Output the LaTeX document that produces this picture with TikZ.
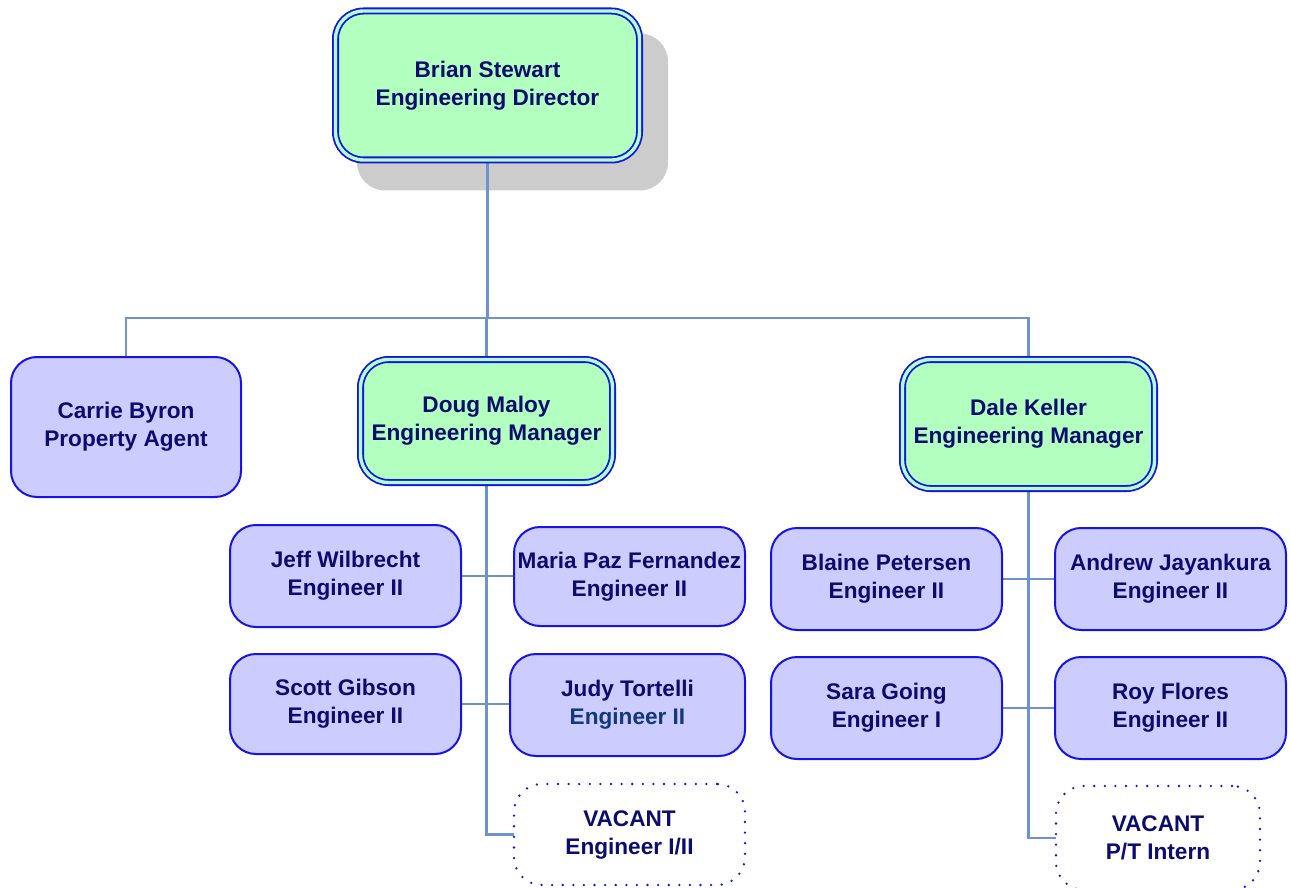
\documentclass[tikz,border=0pt]{standalone}
\usepackage{fontspec}
\setmainfont{Liberation Sans}
\usetikzlibrary{backgrounds}
\definecolor{bordc}{HTML}{1414E6}
\definecolor{greenc}{HTML}{B2FFC0}
\definecolor{lavc}{HTML}{CCCCFF}
\definecolor{linec}{HTML}{6E92CB}
\definecolor{txtc}{HTML}{0C0C6E}
\definecolor{judyc}{HTML}{14387A}
\definecolor{shadc}{HTML}{CCCCCC}
\begin{document}
\begin{tikzpicture}[x=1pt,y=-1pt,
 base/.style={rectangle, rounded corners=26pt, align=center, text=txtc,
   font=\fontsize{22.6}{28}\selectfont\bfseries, inner sep=0pt, outer sep=0pt},
 mgr/.style={base, draw=bordc, line width=1.8pt, double=greenc, double distance=3.4pt, fill=greenc, rounded corners=28pt},
 emp/.style={base, draw=bordc, line width=2pt, fill=lavc},
 vac/.style={base, draw=bordc, line width=2.6pt, dash pattern=on 0pt off 10.6pt, line cap=round, fill=white, rounded corners=28pt},
 conn/.style={draw=linec, line width=2.5pt}
]
\useasboundingbox (0,0) rectangle (1291,888);

\node[mgr, minimum width=304pt, minimum height=149pt] (brian) at (487.5,85.5) {Brian Stewart\\Engineering Director};
\node[emp, minimum width=230pt, minimum height=140pt] (carrie) at (126,427) {Carrie Byron\\Property Agent};
\node[mgr, minimum width=252pt, minimum height=123pt] (doug) at (486.5,421) {Doug Maloy\\Engineering Manager};
\node[mgr, minimum width=252pt, minimum height=129pt] (dale) at (1028.5,424) {Dale Keller\\Engineering Manager};

\node[emp, minimum width=231pt, minimum height=102pt] (jeff) at (345.5,576) {Jeff Wilbrecht\\Engineer II};
\node[emp, minimum width=231pt, minimum height=99pt] (maria) at (629.5,576.5) {Maria Paz Fernandez\\Engineer II};
\node[emp, minimum width=231pt, minimum height=100pt] (scott) at (345.5,704) {Scott Gibson\\Engineer II};
\node[emp, minimum width=235pt, minimum height=102pt] (judy) at (627.5,705) {Judy Tortelli\\{\color{judyc}Engineer II}};
\node[vac, minimum width=231pt, minimum height=101pt] (vac1) at (629.5,834.5) {VACANT\\Engineer I/II};

\node[emp, minimum width=231pt, minimum height=102pt] (blaine) at (886.5,579) {Blaine Petersen\\Engineer II};
\node[emp, minimum width=231pt, minimum height=102pt] (andrew) at (1170.5,579) {Andrew Jayankura\\Engineer II};
\node[emp, minimum width=231pt, minimum height=102pt] (sara) at (886.5,708) {Sara Going\\Engineer I};
\node[emp, minimum width=231pt, minimum height=102pt] (roy) at (1170.5,708) {Roy Flores\\Engineer II};
\node[vac, minimum width=204pt, minimum height=104pt] (vac2) at (1158,838) {VACANT\\P/T Intern};

\begin{scope}[on background layer]
  \fill[shadc, rounded corners=28pt] ([shift={(21.5,22.5)}]brian.north west) rectangle ([shift={(28.5,30.5)}]brian.south east);
  \coordinate (bus) at (0,318);
  \draw[conn] (brian.south) -- (brian.south |- bus);
  \draw[conn] (carrie.north) -- (carrie.north |- bus) -- (dale.north |- bus) -- (dale.north);
  \draw[conn] (doug.north) -- (doug.north |- bus);
  \draw[conn] (doug.south) |- (vac1.west);
  \draw[conn] (jeff.east) -- (jeff.east -| maria.west);
  \draw[conn] (scott.east) -- (scott.east -| judy.west);
  \draw[conn] (dale.south) |- (vac2.west);
  \draw[conn] (blaine.east) -- (andrew.west);
  \draw[conn] (sara.east) -- (roy.west);
\end{scope}
\end{tikzpicture}
\end{document}
